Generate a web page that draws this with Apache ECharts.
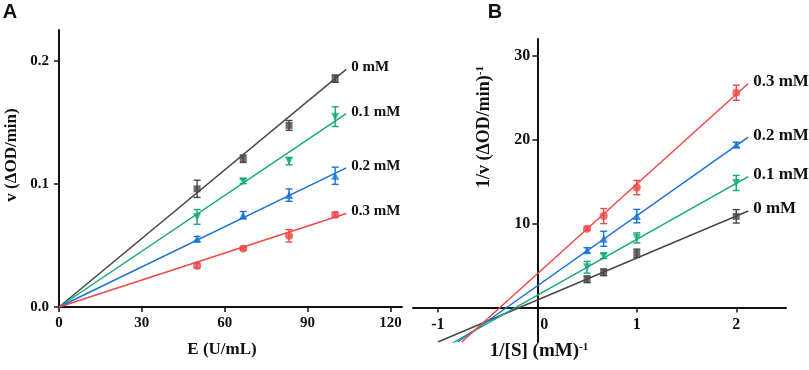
<!DOCTYPE html>
<html>
<head>
<meta charset="utf-8">
<script src="https://cdn.jsdelivr.net/npm/echarts@6/dist/echarts.min.js"></script>
<style>
html, body { margin: 0; padding: 0; background: #fff; }
#chart { width: 809px; height: 370px; }
</style>
</head>
<body>
<div id="chart"></div>
<script>
// 数据：抑制剂浓度
const names = ['0 mM', '0.1 mM', '0.2 mM', '0.3 mM'];

// A: v vs E
const enzyme = [50, 66.7, 83.3, 100];
const vA0 = [0.096, 0.1204, 0.1475, 0.1855];
const vA1 = [0.0732, 0.1022, 0.1185, 0.1546];
const vA2 = [0.0553, 0.0746, 0.0909, 0.1066];
const vA3 = [0.0336, 0.0475, 0.0578, 0.0749];
const errA0 = [0.007, 0.003, 0.004, 0.003];
const errA1 = [0.006, 0.002, 0.003, 0.008];
const errA2 = [0.002, 0.003, 0.005, 0.007];
const errA3 = [0.002, 0.001, 0.005, 0.002];
const fitA0 = [[0, 0], [104, 0.193]];
const fitA1 = [[0, 0], [104, 0.157]];
const fitA2 = [[0, 0], [104, 0.113]];
const fitA3 = [[0, 0], [104, 0.076]];

// B: Lineweaver-Burk
const invS = [0.5, 0.667, 1, 2];
const invV0 = [3.37, 4.2, 6.47, 10.87];
const invV1 = [4.8, 6.15, 8.3, 14.85];
const invV2 = [6.83, 8.2, 10.9, 19.4];
const invV3 = [9.4, 10.9, 14.3, 25.6];
const errB0 = [0.4, 0.4, 0.5, 0.8];
const errB1 = [0.7, 0.3, 0.6, 0.9];
const errB2 = [0.3, 0.9, 0.8, 0.3];
const errB3 = [0.2, 0.9, 0.85, 0.9];
const fitB0 = [[-1.0, -4.1], [2.12, 11.5]];
const fitB1 = [[-0.85, -4.2], [2.12, 15.6]];
const fitB2 = [[-0.8, -4.1], [2.12, 20.3]];
const fitB3 = [[-0.76, -4.1], [2.12, 26.7]];

// 刻度
const ticksAX = [0, 30, 60, 90, 120];
const ticksAY = [0, 0.1, 0.2];
const ticksBX = [-1, 0, 1, 2];
const ticksBY = [10, 20, 30];

const colors = ['#474747', '#14a87a', '#1a72d8', '#f04848'];
const symbols = ['rect', 'triangle', 'triangle', 'circle'];
const symbolRot = [0, 180, 0, 0];
const serif = 'Liberation Serif';
const ink = '#111';

function seriesFor(idx, k, xs, ys, errs, fit) {
    const color = colors[k];
    const pts = xs.map((x, i) => [x, ys[i], errs[i]]);
    return [
        {
            name: names[k],
            type: 'line',
            xAxisIndex: idx, yAxisIndex: idx,
            data: fit,
            symbol: 'none',
            lineStyle: { color: color, width: 1.5 },
            z: 2,
            endLabel: {
                show: true,
                formatter: '{a}',
                distance: 5,
                offset: [0, -2],
                color: ink,
                fontFamily: serif,
                fontWeight: 'bold',
                fontSize: idx === 0 ? 15 : 17
            }
        },
        {
            type: 'custom',
            xAxisIndex: idx, yAxisIndex: idx,
            data: pts,
            z: 3,
            renderItem: function (params, api) {
                const x = api.value(0), y = api.value(1), e = api.value(2);
                const top = api.coord([x, y + e]);
                const bot = api.coord([x, y - e]);
                const w = 3.5;
                const st = { stroke: color, lineWidth: 1.4 };
                return {
                    type: 'group',
                    children: [
                        { type: 'line', shape: { x1: top[0], y1: top[1], x2: bot[0], y2: bot[1] }, style: st },
                        { type: 'line', shape: { x1: top[0] - w, y1: top[1], x2: top[0] + w, y2: top[1] }, style: st },
                        { type: 'line', shape: { x1: bot[0] - w, y1: bot[1], x2: bot[0] + w, y2: bot[1] }, style: st }
                    ]
                };
            }
        },
        {
            type: 'scatter',
            xAxisIndex: idx, yAxisIndex: idx,
            data: pts.map(p => [p[0], p[1]]),
            symbol: symbols[k],
            symbolRotate: symbolRot[k],
            symbolSize: k === 0 ? 7 : 8,
            itemStyle: { color: color },
            z: 4
        }
    ];
}

function labelStyle(size) {
    return { color: ink, fontFamily: serif, fontWeight: 'bold', fontSize: size };
}

function valueAxis(grid, min, max, ticks, size) {
    return {
        type: 'value',
        gridIndex: grid,
        min: min,
        max: max,
        splitLine: { show: false },
        axisLine: { show: true, lineStyle: { color: ink, width: 2 } },
        axisTick: { show: true, length: 5, customValues: ticks, lineStyle: { color: ink, width: 1.5 } },
        axisLabel: Object.assign({ customValues: ticks, margin: 9 }, labelStyle(size))
    };
}

const chart = echarts.init(document.getElementById('chart'));

const series = [].concat(
    seriesFor(0, 0, enzyme, vA0, errA0, fitA0),
    seriesFor(0, 1, enzyme, vA1, errA1, fitA1),
    seriesFor(0, 2, enzyme, vA2, errA2, fitA2),
    seriesFor(0, 3, enzyme, vA3, errA3, fitA3),
    seriesFor(1, 0, invS, invV0, errB0, fitB0),
    seriesFor(1, 1, invS, invV1, errB1, fitB1),
    seriesFor(1, 2, invS, invV2, errB2, fitB2),
    seriesFor(1, 3, invS, invV3, errB3, fitB3)
);

const xA = valueAxis(0, 0, 124.2, ticksAX, 15);

const yA = valueAxis(0, 0, 0.225, ticksAY, 15);
yA.axisLabel.formatter = v => v.toFixed(1);
yA.axisLabel.margin = 10;

// B 的坐标轴穿过原点
const xB = valueAxis(1, -1.25, 2.5, ticksBX, 16);
xB.axisLine.onZero = false;
xB.offset = -34.4;
xB.axisLabel.formatter = v => (v === 0 ? '{z|0}' : String(v));
xB.axisLabel.rich = { z: Object.assign({ padding: [0, 0, 0, 14] }, labelStyle(16)) };

const yB = valueAxis(1, -4.1, 32, ticksBY, 16);
yB.axisLine.onZero = false;
yB.offset = -124.3;
yB.axisLabel.margin = 7;

const supStyle = { sup: { fontFamily: serif, fontWeight: 'bold', fontSize: 11, verticalAlign: 'top', fill: ink } };

chart.setOption({
    animation: false,
    backgroundColor: '#fff',
    grid: [
        { left: 59, top: 30, width: 343, height: 277 },
        { left: 413, top: 39, width: 373, height: 303 }
    ],
    xAxis: [xA, xB],
    yAxis: [yA, yB],
    series: series,
    graphic: [
        { type: 'text', x: 10, y: 12, style: { text: 'A', font: 'bold 20px "Liberation Sans"', fill: ink, align: 'center', verticalAlign: 'middle' } },
        { type: 'text', x: 495, y: 12, style: { text: 'B', font: 'bold 20px "Liberation Sans"', fill: ink, align: 'center', verticalAlign: 'middle' } },
        { type: 'text', x: 12, y: 155, rotation: Math.PI / 2, style: { text: 'v (ΔOD/min)', font: 'bold 17px "Liberation Serif"', fill: ink, align: 'center', verticalAlign: 'middle' } },
        { type: 'text', x: 222, y: 350, style: { text: 'E (U/mL)', font: 'bold 17px "Liberation Serif"', fill: ink, align: 'center', verticalAlign: 'middle' } },
        {
            type: 'text', x: 484, y: 127, rotation: Math.PI / 2,
            style: {
                text: '1/v (ΔOD/min){sup|-1}', font: 'bold 18px "Liberation Serif"', fill: ink,
                align: 'center', verticalAlign: 'middle', rich: supStyle
            }
        },
        {
            type: 'text', x: 539, y: 351,
            style: {
                text: '1/[S] (mM){sup|-1}', font: 'bold 19px "Liberation Serif"', fill: ink,
                align: 'center', verticalAlign: 'middle', rich: supStyle
            }
        }
    ]
});
</script>
</body>
</html>
